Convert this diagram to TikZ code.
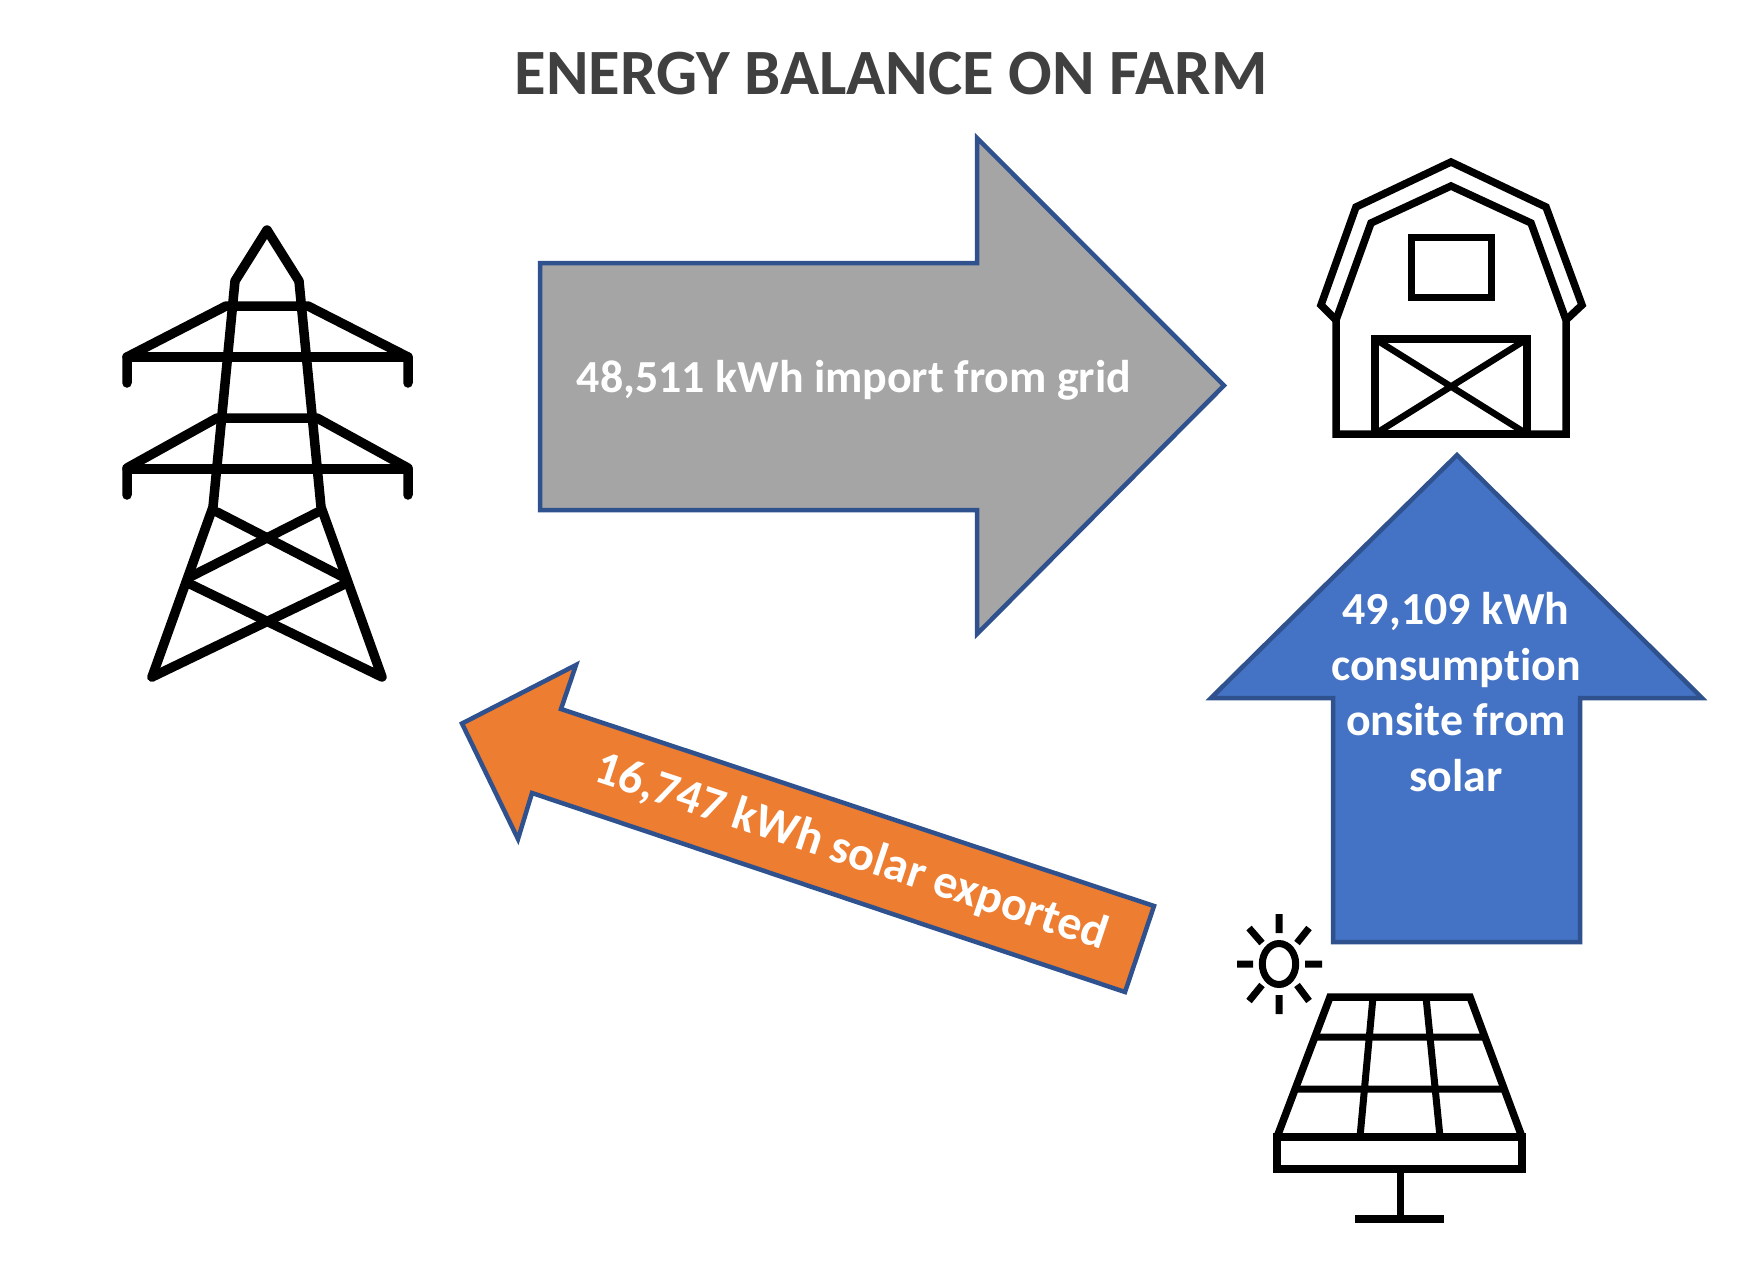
\documentclass[tikz,border=0pt]{standalone}
\usepackage{fontspec}
\setmainfont[Ligatures=NoCommon]{Carlito}
\tikzset{
  icon/.style={draw=black,line width=#1,line join=miter,fill=none},
  icon/.default=8pt,
  flow/.style={draw=arrowedge,line width=4.5pt,line join=miter,miter limit=10},
  flowtext/.style={text=white,align=center,inner sep=0pt},
}
\definecolor{arrowedge}{HTML}{2F528F}
\definecolor{greyflow}{HTML}{A5A5A5}
\definecolor{blueflow}{HTML}{4472C4}
\definecolor{orangeflow}{HTML}{ED7D31}
\definecolor{titlegrey}{HTML}{404040}
\begin{document}
\begin{tikzpicture}[x=1pt,y=-1pt]
\useasboundingbox (0,0) rectangle (1757,1262);
\fill[white] (0,0) rectangle (1757,1262);
% title
\node[text=titlegrey,font=\bfseries\fontsize{64.6}{72}\selectfont,inner sep=0pt] (title) at (891,74) {ENERGY BALANCE ON FARM};
% arrows
\draw[flow,fill=greyflow] (540,263) -- (977,263) -- (977,138) -- (1224,385.5) -- (977,634) -- (977,510) -- (540,510) -- cycle;
\draw[flow,fill=blueflow] (1457,455) -- (1702,698) -- (1580,698) -- (1580,942) -- (1333,942) -- (1333,698) -- (1211,698) -- cycle;
\draw[flow,fill=orangeflow] (462,723.5) -- (576,665) -- (561,709) -- (1154,906) -- (1125,992) -- (532,793) -- (518,839) -- cycle;
% arrow texts
\node[flowtext,font=\bfseries\fontsize{45.9}{55.5}\selectfont] (importlabel) at (854,380) {48,511 kWh import from grid};
\node[flowtext,font=\bfseries\fontsize{45.9}{55.5}\selectfont] (onsitelabel) at (1456,692) {49,109 kWh\\consumption\\onsite from\\solar};
\node[flowtext,font=\bfseries\fontsize{48}{55}\selectfont,rotate=-18.35] (exportlabel) at (851,853) {16,747 kWh solar exported};
% pylon
\begin{scope}[line width=9.5pt,line cap=round,line join=round]
\draw (152,677) -- (213,507) -- (235,281) -- (267,230) -- (299,281) -- (321,507) -- (382,677) -- (188,583);
\draw (152,677) -- (347,583);
\draw (190,577) -- (318,512);
\draw (217,512) -- (343,577);
\draw (127,383) -- (127,357) -- (226,306) -- (308,306) -- (408,357) -- (408,383);
\draw (127,357) -- (408,357);
\draw (127,495) -- (127,468) -- (217,418) -- (317,418) -- (408,468) -- (408,495);
\draw (127,469) -- (408,469);
\end{scope}
% barn
\draw[icon=7.5pt] (1336,320) -- (1321,305) -- (1356,207) -- (1451,162) -- (1546,207) -- (1582,305) -- (1566,320);
\draw[icon=7.5pt] (1336,434) -- (1336,320) -- (1371,223) -- (1451,186) -- (1531,223) -- (1566,320) -- (1566,434) -- cycle;
\draw[icon=7pt] (1411,237) rectangle (1491,297);
\draw[icon=7.5pt] (1375,339) rectangle (1527,434);
\draw[icon=6.5pt] (1375,339) -- (1527,434) (1527,339) -- (1375,434);
% sun
\draw[icon=7pt] (1279,964) ellipse [x radius=16.7,y radius=20.5];
\draw[icon=7pt] (1279,914) -- (1279,933) (1279,995) -- (1279,1014) (1237,964) -- (1253,964) (1305,964) -- (1322,964)
  (1249,928) -- (1262,943) (1309,928) -- (1297,943) (1249,1001) -- (1262,985) (1309,1001) -- (1297,985);
% solar panel
\draw[icon=7.5pt] (1277,1137) -- (1330,997) -- (1470,997) -- (1522,1137);
\draw[icon=7.5pt] (1277,1137) rectangle (1522,1169);
\draw[icon=7pt] (1315,1037) -- (1483,1037) (1297,1089) -- (1502,1089)
  (1373,997) -- (1360,1137) (1426,997) -- (1440,1137);
\draw[icon=7pt] (1400,1169) -- (1400,1219);
\draw[icon=8pt] (1355,1219) -- (1444,1219);
\end{tikzpicture}
\end{document}
